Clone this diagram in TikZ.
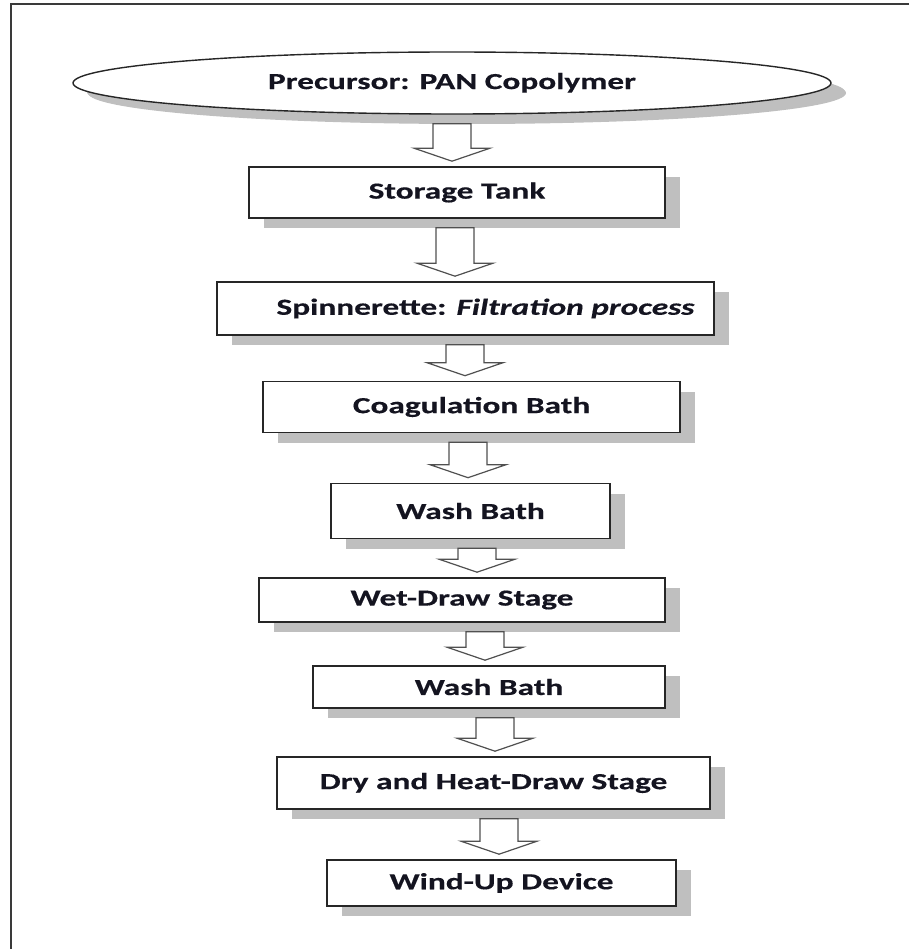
\documentclass[tikz,border=0pt]{standalone}
\usepackage{fontspec}
\usepackage{xcolor,tikz}
\usetikzlibrary{calc,shapes.geometric,shadows}
\newfontfamily\procfont[FakeStretch=1.45,FakeBold=0.4]{Carlito}
\definecolor{procLine}{HTML}{262626}
\definecolor{procArrow}{HTML}{505050}
\definecolor{procShadow}{HTML}{BFBFBF}
\definecolor{procFrame}{HTML}{3A3A3A}
\definecolor{procText}{HTML}{141420}
\tikzset{
  proc stage/.style={
    rectangle, fill=white, draw=procLine, line width=1.6pt,
    font={\procfont\bfseries\fontsize{23}{26}\selectfont}, text=procText,
    inner sep=0pt,
    drop shadow={shadow xshift=15pt, shadow yshift=-10pt,
      fill=procShadow, opacity=1},
  },
  proc start/.style={
    proc stage, ellipse, line width=1.4pt,
    drop shadow={shadow xshift=14pt, shadow yshift=-9pt,
      fill=procShadow, opacity=1},
  },
  flow arrow/.style={
    draw=procArrow, fill=white, line width=1.2pt, line join=miter,
  },
  frame line/.style={draw=procFrame, line width=2.6pt},
}
% hollow block arrow from one stage down to the next, at x = #3
\newcommand{\flowarrow}[3]{%
  \draw[flow arrow] let \p1=(#1.south), \p2=(#2.north) in
    (#3pt-19pt, \y1-9pt) -- (#3pt-19pt, \y2+18pt) -- (#3pt-38pt, \y2+18pt)
    -- (#3pt, \y2+5pt) -- (#3pt+38pt, \y2+18pt) -- (#3pt+19pt, \y2+18pt)
    -- (#3pt+19pt, \y1-9pt) -- cycle;}

\begin{document}
\begin{tikzpicture}[x=1pt, y=-1pt]
\useasboundingbox (0,0) rectangle (909,949);

% --- FRAME ---
\draw[frame line] (909,4) -- (11,4) -- (11,949);

% --- STAGES ---
\node[proc start, minimum width=758pt, minimum height=62pt] (precursor)
  at (452,83) {\raisebox{4pt}{Precursor: PAN Copolymer}};
\node[proc stage, minimum width=416pt, minimum height=51pt] (tank)
  at (457,192.5) {Storage Tank};
\node[proc stage, minimum width=497pt, minimum height=53pt] (spinner)
  at (465.5,308.5) {\hspace*{40pt}Spinnerette: \textit{Filtration process}};
\node[proc stage, minimum width=417pt, minimum height=51pt] (coag)
  at (471.5,407) {Coagulation Bath};
\node[proc stage, minimum width=279pt, minimum height=55pt] (washA)
  at (470.5,511) {Wash Bath};
\node[proc stage, minimum width=406pt, minimum height=44pt] (wetdraw)
  at (462,600) {Wet-Draw Stage};
\node[proc stage, minimum width=352pt, minimum height=42pt] (washB)
  at (489,687) {Wash Bath};
\node[proc stage, minimum width=433pt, minimum height=52pt] (drydraw)
  at (493.5,783) {Dry and Heat-Draw Stage};
\node[proc stage, minimum width=349pt, minimum height=46pt] (windup)
  at (501.5,883) {Wind-Up Device};

% --- ARROWS ---
\flowarrow{precursor}{tank}{452}
\flowarrow{tank}{spinner}{455}
\flowarrow{spinner}{coag}{465}
\flowarrow{coag}{washA}{468}
\flowarrow{washA}{wetdraw}{477}
\flowarrow{wetdraw}{washB}{485}
\flowarrow{washB}{drydraw}{495}
\flowarrow{drydraw}{windup}{499}

\end{tikzpicture}
\end{document}
